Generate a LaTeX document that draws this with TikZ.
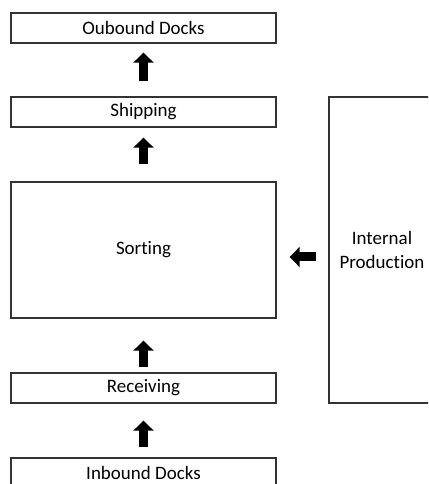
\documentclass[tikz,border=0pt]{standalone}
\usepackage{fontspec}
\setmainfont{Carlito}[Ligatures=NoCommon]
\usetikzlibrary{calc,arrows.meta}

\tikzset{
	caja/.style={draw=black!80, line width=1pt, minimum width=6.625cm, minimum height=0.75cm, inner sep=0pt},
	flecha/.style={line width=0.225cm, -{Triangle[width=0.5cm, length=0.25cm]}},
}

\begin{document}
\begin{tikzpicture}[font=\fontsize{13.5}{17.5}\selectfont]
	% Marco del dibujo
	\useasboundingbox (0,0) rectangle (10.7,12.1);
	\clip (0,0) rectangle (10.7,12.1);

	% Cajas del flujo principal
	\node[caja] (outb) at (3.5875,11.4) {Oubound Docks};
	\node[caja] (ship) at (3.5875,9.3) {Shipping};
	\node[caja, minimum height=3.4cm] (sort) at (3.5875,5.85) {Sorting};
	\node[caja] (recv) at (3.5875,2.4) {Receiving};
	\node[caja] (inb) at (3.5875,0.275) {Inbound Docks};

	% Produccion interna
	\node[caja, minimum width=2.65cm, minimum height=7.65cm, align=center] (prod) at (9.55,5.85) {Internal\\Production};

	% Flechas hacia arriba
	\draw[flecha, shorten <=0.375cm, shorten >=0.225cm] (ship) -- (outb);
	\draw[flecha, shorten <=0.425cm, shorten >=0.25cm] (sort) -- (ship);
	\draw[flecha, shorten <=0.125cm, shorten >=0.55cm] (recv) -- (sort);
	\draw[flecha, shorten <=0.25cm, shorten >=0.425cm] (inb) -- (recv);

	% Flecha desde produccion
	\draw[flecha, shorten <=0.3cm, shorten >=0.325cm] ([yshift=-0.175cm]prod.west) -- ([yshift=-0.175cm]sort.east);
\end{tikzpicture}
\end{document}
